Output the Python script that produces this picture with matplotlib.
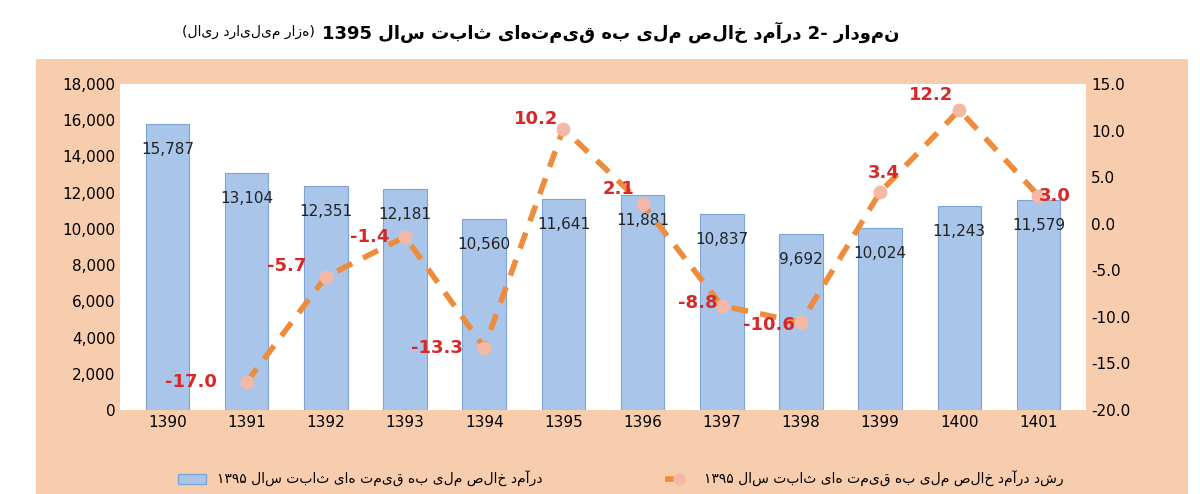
import matplotlib.pyplot as plt
import matplotlib.patches as mpatches
import matplotlib.lines as mlines
import re

plt.rcParams['font.family'] = ['DejaVu Sans']

years = ['1390', '1391', '1392', '1393', '1394', '1395', '1396', '1397', '1398', '1399', '1400', '1401']
income = [15787, 13104, 12351, 12181, 10560, 11641, 11881, 10837, 9692, 10024, 11243, 11579]
growth = [None, -17.0, -5.7, -1.4, -13.3, 10.2, 2.1, -8.8, -10.6, 3.4, 12.2, 3.0]

title_txt = 'نمودار 2- درآمد خالص ملی به قیمت‌های ثابت سال 1395'
title_sub = '(هزار میلیارد ریال)'
leg_bar = 'درآمد خالص ملی به قیمت های ثابت سال ۱۳۹۵'
leg_line = 'رشد درآمد خالص ملی به قیمت های ثابت سال ۱۳۹۵'


def rtl(s):
    # crude visual order for right-to-left text (no glyph shaping available)
    s = s.replace('\u200c', '')
    tokens = s.split(' ')
    out = []
    for t in reversed(tokens):
        if re.search('[\u0600-\u06FF]', t) and not re.fullmatch('[۰-۹]+', t):
            t = t[::-1].replace('(', '\0').replace(')', '(').replace('\0', ')')
        out.append(t)
    return ' '.join(out)


peach = '#F8CDAE'
fig = plt.figure(figsize=(12, 4.94), dpi=100)
fig.patch.set_facecolor('white')
fig.patches.append(mpatches.Rectangle((0.03, 0), 0.96, 0.88, transform=fig.transFigure,
                                      facecolor=peach, edgecolor='none', zorder=-10))
ax = fig.add_axes([0.1, 0.17, 0.805, 0.66])
ax.set_facecolor('white')

x = list(range(len(years)))
ax.bar(x, income, width=0.55, color='#A9C6EA', edgecolor='#7FA3D3', linewidth=0.8)
for xi, v in zip(x, income):
    ax.text(xi, v - 1400, f'{v:,}', ha='center', va='center', fontsize=11, color='#222222')
ax.set_ylim(0, 18000)
ax.set_yticks(range(0, 18001, 2000))
ax.set_yticklabels([f'{v:,}' for v in range(0, 18001, 2000)], fontsize=11)
ax.set_xticks(x)
ax.set_xticklabels(years, fontsize=11)
ax.set_xlim(-0.6, len(years) - 0.4)
for s in ax.spines.values():
    s.set_visible(False)
ax.tick_params(length=0)

ax2 = ax.twinx()
gx = [xi for xi, g in zip(x, growth) if g is not None]
gy = [g for g in growth if g is not None]
ax2.plot(gx, gy, color='#EE8C3C', linewidth=4, dashes=(3, 2.2), zorder=3)
ax2.plot(gx, gy, 'o', color='#F4B9A6', markersize=9, zorder=4)
ax2.set_ylim(-20, 15)
ax2.set_yticks(range(-20, 16, 5))
ax2.set_yticklabels([f'{v:.1f}' for v in range(-20, 16, 5)], fontsize=11)
for s in ax2.spines.values():
    s.set_visible(False)
ax2.tick_params(length=0)

offsets = {1: (-0.7, 0), 2: (-0.5, 1.2), 3: (-0.45, 0), 4: (-0.6, 0), 5: (-0.35, 1.0),
           6: (-0.3, 1.6), 7: (-0.3, 0.3), 8: (-0.4, -0.3), 9: (0.05, 2.0), 10: (-0.35, 1.6), 11: (0.2, 0)}
for xi, g in zip(gx, gy):
    dx, dy = offsets[xi]
    ax2.text(xi + dx, g + dy, f'{g:.1f}', ha='center', va='center', fontsize=13,
             fontweight='bold', color='#D62828', zorder=5)

fig.text(0.75, 0.935, rtl(title_txt), ha='right', va='center', fontsize=13, fontweight='bold')
fig.text(0.262, 0.935, rtl(title_sub), ha='right', va='center', fontsize=10)

h1 = mpatches.Patch(facecolor='#A9C6EA', edgecolor='#7FA3D3')
h2 = mlines.Line2D([], [], color='#EE8C3C', linewidth=4, dashes=(3, 2.2),
                   marker='o', markerfacecolor='#F4B9A6', markeredgecolor='#F4B9A6', markersize=8)
fig.legend([h1], [rtl(leg_bar)], loc='center', bbox_to_anchor=(0.3, 0.03), frameon=False, fontsize=10)
fig.legend([h2], [rtl(leg_line)], loc='center', bbox_to_anchor=(0.72, 0.03), frameon=False, fontsize=10)

fig.savefig('out.png', dpi=100, facecolor=fig.get_facecolor())
